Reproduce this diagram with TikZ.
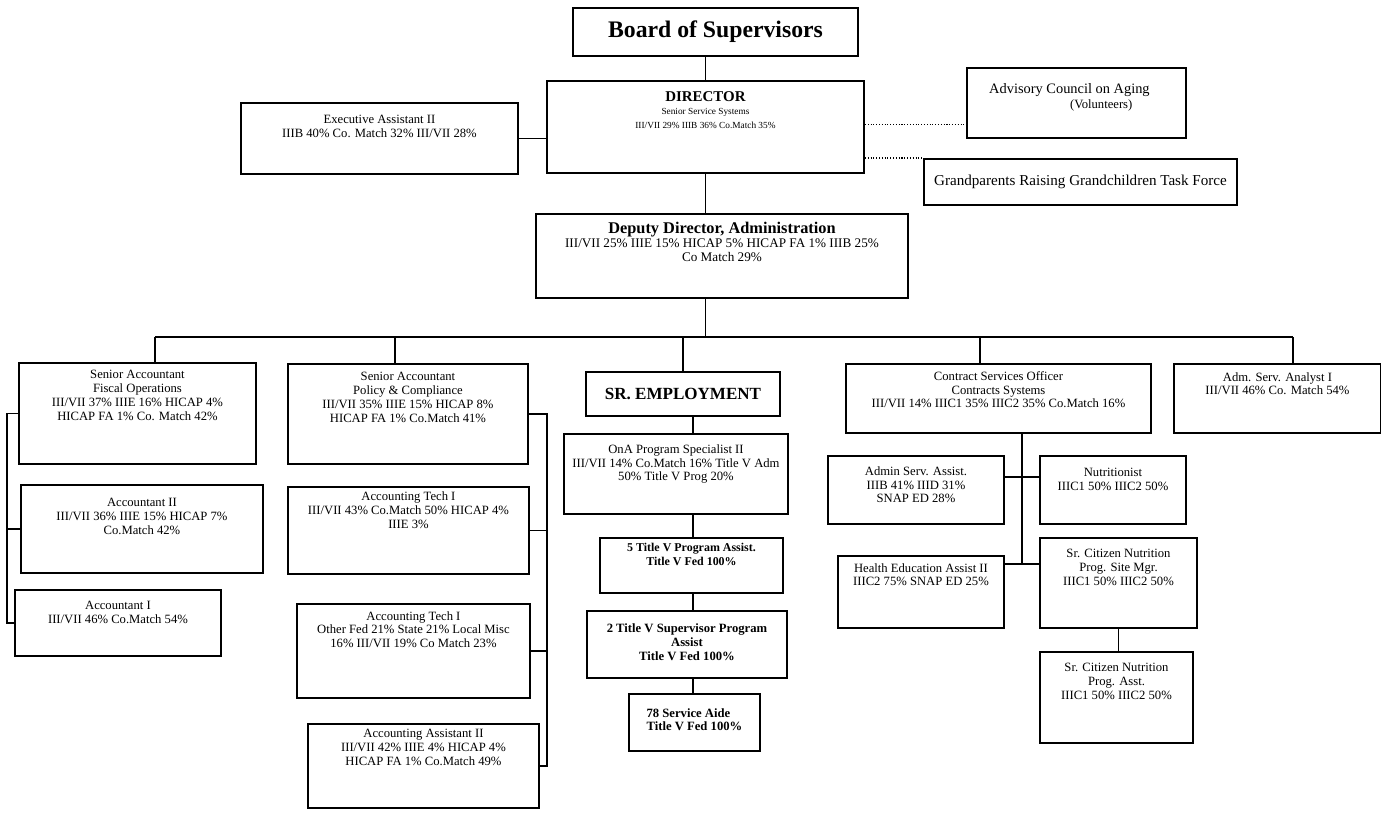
\documentclass[tikz,border=0pt]{standalone}
\usepackage{fontspec}
\setmainfont{Liberation Serif}
\usetikzlibrary{positioning,calc}

\begin{document}
\begin{tikzpicture}[
    x=0.02cm, y=-0.02cm,
    unit/.style args={#1x#2}{
        draw,
        rectangle,
        line width=1.1pt,
        anchor=north west,
        minimum width=#1*0.02cm,
        minimum height=#2*0.02cm,
        inner sep=0pt
    },
    txt/.style={
        align=center,
        inner sep=0pt,
        font=\fontsize{7.2}{7.9}\selectfont
    },
    link/.style={line width=0.9pt},
    aux/.style={line width=0.6pt, densely dotted}
]
\useasboundingbox (0,0) rectangle (1381,814);

% top of the chart
\node[unit=285x48, font=\fontsize{13.5}{15}\selectfont\bfseries] (board) at (572,7) {Board of Supervisors};
\node[unit=317x92] (dir) at (546,80) {};
\node[txt, font=\fontsize{5.3}{7.5}\selectfont, below=6.5pt of dir.north] (dir-t) {
{\fontsize{8.5}{9}\selectfont\bfseries DIRECTOR}\\
Senior Service Systems\\
III/VII 29\% IIIB 36\% Co.Match 35\%
};
\node[unit=277x71] (exec) at (240,102) {};
\node[txt, below=7.5pt of exec.north] (exec-t) {
Executive Assistant II\\
IIIB 40\% Co. Match 32\% III/VII 28\%
};
\node[unit=219x70] (acoa) at (966,67) {};
\node[txt, align=left, font=\fontsize{8.2}{8.8}\selectfont, below=9pt of acoa.north, xshift=-4pt] (acoa-t) {
Advisory Council on Aging\\
\hspace*{46pt}{\fontsize{7.2}{8.8}\selectfont(Volunteers)}
};
\node[unit=313x46, font=\fontsize{8.6}{9.4}\selectfont] (grg) at (923,158) {Grandparents Raising Grandchildren Task Force};
\node[unit=372x84] (dep) at (535,213) {};
\node[txt, font=\fontsize{7.5}{8}\selectfont, below=5pt of dep.north] (dep-t) {
{\fontsize{9.3}{9.6}\selectfont\bfseries Deputy Director, Administration}\\
III/VII 25\% IIIE 15\% HICAP 5\% HICAP FA 1\% IIIB 25\%\\
Co Match 29\%
};

% fiscal operations
\node[unit=237x101] (fis) at (18,362) {};
\node[txt, below=4.5pt of fis.north] (fis-t) {
Senior Accountant\\
Fiscal Operations\\
III/VII 37\% IIIE 16\% HICAP 4\%\\
HICAP FA 1\% Co. Match 42\%
};
\node[unit=242x88] (acc2) at (20,484) {};
\node[txt, below=8pt of acc2.north] (acc2-t) {
Accountant II\\
III/VII 36\% IIIE 15\% HICAP 7\%\\
Co.Match 42\%
};
\node[unit=206x66] (acc1) at (14,589) {};
\node[txt, below=6.8pt of acc1.north] (acc1-t) {
Accountant I\\
III/VII 46\% Co.Match 54\%
};

% policy and compliance
\node[unit=240x100] (pol) at (287,363) {};
\node[txt, below=5pt of pol.north] (pol-t) {
Senior Accountant\\
Policy \& Compliance\\
III/VII 35\% IIIE 15\% HICAP 8\%\\
HICAP FA 1\% Co.Match 41\%
};
\node[unit=241x87] (tech1) at (287,486) {};
\node[txt, below=3pt of tech1.north] (tech1-t) {
Accounting Tech I\\
III/VII 43\% Co.Match 50\% HICAP 4\%\\
IIIE 3\%
};
\node[unit=233x94] (tech2) at (296,603) {};
\node[txt, below=4.5pt of tech2.north] (tech2-t) {
Accounting Tech I\\
Other Fed 21\% State 21\% Local Misc\\
16\% III/VII 19\% Co Match 23\%
};
\node[unit=231x84] (asst2) at (307,723) {};
\node[txt, below=3.4pt of asst2.north] (asst2-t) {
Accounting Assistant II\\
III/VII 42\% IIIE 4\% HICAP 4\%\\
HICAP FA 1\% Co.Match 49\%
};

% senior employment
\node[unit=194x44, font=\fontsize{9.7}{11}\selectfont\bfseries] (sre) at (585,371) {SR. EMPLOYMENT};
\node[unit=224x80] (ona) at (563,433) {};
\node[txt, below=6.3pt of ona.north] (ona-t) {
OnA Program Specialist II\\
III/VII 14\% Co.Match 16\% Title V Adm\\
50\% Title V Prog 20\%
};
\node[unit=183x55] (tv5) at (599,537) {};
\node[txt, font=\fontsize{6.8}{7.9}\selectfont\bfseries, below=3.4pt of tv5.north] (tv5-t) {
5 Title V Program Assist.\\
Title V Fed 100\%
};
\node[unit=200x67] (tv2) at (586,610) {};
\node[txt, font=\fontsize{7.2}{7.9}\selectfont\bfseries, below=7.5pt of tv2.north] (tv2-t) {
2 Title V Supervisor Program\\
Assist\\
Title V Fed 100\%
};
\node[unit=131x57] (aide) at (628,693) {};
\node[txt, align=left, font=\fontsize{7.2}{7.9}\selectfont\bfseries, below=8.5pt of aide.north] (aide-t) {
78 Service Aide\\
Title V Fed 100\%
};

% contracts and nutrition
\node[unit=305x69] (cso) at (845,363) {};
\node[txt, below=4.5pt of cso.north] (cso-t) {
Contract Services Officer\\
Contracts Systems\\
III/VII 14\% IIIC1 35\% IIIC2 35\% Co.Match 16\%
};
\node[unit=176x68] (ass) at (827,455) {};
\node[txt, below=6.3pt of ass.north] (ass-t) {
Admin Serv. Assist.\\
IIIB 41\% IIID 31\%\\
SNAP ED 28\%
};
\node[unit=146x68] (nut) at (1039,455) {};
\node[txt, below=7.4pt of nut.north] (nut-t) {
Nutritionist\\
IIIC1 50\% IIIC2 50\%
};
\node[unit=166x72] (hea) at (837,555) {};
\node[txt, below=4.5pt of hea.north] (hea-t) {
Health Education Assist II\\
IIIC2 75\% SNAP ED 25\%
};
\node[unit=157x90] (site) at (1039,537) {};
\node[txt, below=6.8pt of site.north] (site-t) {
Sr. Citizen Nutrition\\
Prog. Site Mgr.\\
IIIC1 50\% IIIC2 50\%
};
\node[unit=153x91] (passt) at (1039,651) {};
\node[txt, below=6.8pt of passt.north] (passt-t) {
Sr. Citizen Nutrition\\
Prog. Asst.\\
IIIC1 50\% IIIC2 50\%
};
\node[unit=207x69] (ana) at (1173,363) {};
\node[txt, below=5.1pt of ana.north] (ana-t) {
Adm. Serv. Analyst I\\
III/VII 46\% Co. Match 54\%
};

% connectors at the top
\draw[link] (dir.north) -- (dir.north |- board.south);
\draw[link] (exec.east) -- (exec.east -| dir.west);
\coordinate (acoa-in) at ($(acoa.west)!0.6!(acoa.south west)$);
\draw[aux] (dir.east |- acoa-in) -- (acoa-in);
\draw[aux] (dir.east |- grg.north west) -- (grg.north west);
\draw[link] (dir.south) -- (dir.south |- dep.north);

% the bus under the deputy director
\foreach \x/\n in {155/fis, 395/pol, 683/sre, 980/cso, 1293/ana} {
    \coordinate (bus-\n) at (\x,337);
    \draw[link] (bus-\n) -- (bus-\n |- \n.north);
}
\draw[link] (bus-fis) -- (bus-ana);
\draw[link] (dep.south -| dir.south) -- (dir.south |- bus-fis);

% brackets of the two accounting groups
\coordinate (lbar) at (7,0);
\draw[link] (fis.west) -- (fis.west -| lbar) -- (acc1.west -| lbar) -- (acc1.west);
\draw[link] (acc2.west) -- (acc2.west -| lbar);
\coordinate (rbar) at (547,0);
\draw[link] (pol.east) -- (pol.east -| rbar) -- (asst2.east -| rbar) -- (asst2.east);
\draw[link] (tech1.east) -- (tech1.east -| rbar);
\draw[link] (tech2.east) -- (tech2.east -| rbar);

% senior employment chain
\coordinate (emp) at (693,0);
\foreach \a/\b in {sre/ona, ona/tv5, tv5/tv2, tv2/aide}
    \draw[link] (\a.south -| emp) -- (\b.north -| emp);

% contracts tree
\coordinate (j1) at (1022,477);
\coordinate (j2) at (1022,564);
\draw[link] (cso.south -| j1) -- (j2);
\draw[link] (ass.east |- j1) -- (nut.west |- j1);
\draw[link] (hea.east |- j2) -- (site.west |- j2);
\draw[link] (site.south) -- (site.south |- passt.north);

\end{tikzpicture}
\end{document}
